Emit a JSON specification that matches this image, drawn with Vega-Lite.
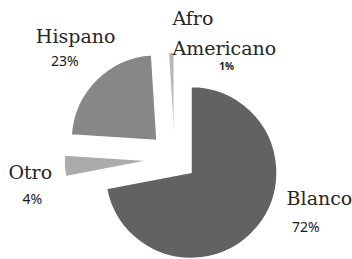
{
  "$schema": "https://vega.github.io/schema/vega-lite/v6.json",
  "width": 352,
  "height": 259,
  "autosize": {"type": "fit", "contains": "padding"},
  "padding": 0,
  "background": "#ffffff",
  "config": {"view": {"stroke": null}},
  "data": {
    "values": [
      {"grupo": "Blanco", "pct": 72, "orden": 1},
      {"grupo": "Otro", "pct": 4, "orden": 2},
      {"grupo": "Hispano", "pct": 23, "orden": 3},
      {"grupo": "Afro Americano", "pct": 1, "orden": 4}
    ]
  },
  "transform": [
    {"stack": "pct", "groupby": [], "sort": [{"field": "orden", "order": "ascending"}], "as": ["inicio", "fin"]},
    {"calculate": "(datum.inicio + datum.fin) / 2", "as": "medio"},
    {"calculate": "datum.pct + '%'", "as": "etiqueta"}
  ],
  "layer": [
    {
      "transform": [{"filter": "datum.grupo === 'Blanco'"}],
      "mark": {"type": "arc", "outerRadius": 86, "fill": "#626262", "stroke": "#ffffff", "strokeWidth": 1.5, "xOffset": 16, "yOffset": 45.5},
      "encoding": {
        "theta": {"field": "inicio", "type": "quantitative", "scale": {"domain": [0, 100]}},
        "theta2": {"field": "fin"}
      }
    },
    {
      "transform": [{"filter": "datum.grupo === 'Otro'"}],
      "mark": {"type": "arc", "outerRadius": 86, "fill": "#ababab", "stroke": "#ffffff", "strokeWidth": 1.5, "xOffset": -25, "yOffset": 33.5},
      "encoding": {
        "theta": {"field": "inicio", "type": "quantitative", "scale": {"domain": [0, 100]}},
        "theta2": {"field": "fin"}
      }
    },
    {
      "transform": [{"filter": "datum.grupo === 'Hispano'"}],
      "mark": {"type": "arc", "outerRadius": 86, "fill": "#878787", "stroke": "#ffffff", "strokeWidth": 1.5, "xOffset": -18, "yOffset": 13.5},
      "encoding": {
        "theta": {"field": "inicio", "type": "quantitative", "scale": {"domain": [0, 100]}},
        "theta2": {"field": "fin"}
      }
    },
    {
      "transform": [{"filter": "datum.grupo === 'Afro Americano'"}],
      "mark": {"type": "arc", "outerRadius": 86, "fill": "#b5b5b5", "stroke": "#ffffff", "strokeWidth": 1, "xOffset": -1, "yOffset": 11.5},
      "encoding": {
        "theta": {"field": "inicio", "type": "quantitative", "scale": {"domain": [0, 100]}},
        "theta2": {"field": "fin"}
      }
    },
    {
      "transform": [{"filter": "datum.grupo === 'Blanco'"}],
      "mark": {"type": "text", "radius": 120, "dx": 36, "dy": -44, "xOffset": 16, "yOffset": 45.5, "font": "DejaVu Serif", "fontSize": 19, "fill": "#262626", "align": "center", "baseline": "alphabetic"},
      "encoding": {
        "theta": {"field": "medio", "type": "quantitative", "scale": {"domain": [0, 100]}},
        "text": {"field": "grupo"}
      }
    },
    {
      "transform": [{"filter": "datum.grupo === 'Blanco'"}],
      "mark": {"type": "text", "radius": 127, "dx": 17, "dy": -21, "xOffset": 16, "yOffset": 45.5, "font": "Noto Sans", "fontSize": 14, "fill": "#1a1a1a", "align": "center", "baseline": "alphabetic"},
      "encoding": {
        "theta": {"field": "medio", "type": "quantitative", "scale": {"domain": [0, 100]}},
        "text": {"field": "etiqueta"}
      }
    },
    {
      "transform": [{"filter": "datum.grupo === 'Otro'"}],
      "mark": {"type": "text", "radius": 121, "dx": 1, "dy": 11, "xOffset": -25, "yOffset": 33.5, "font": "DejaVu Serif", "fontSize": 19, "fill": "#262626", "align": "center", "baseline": "alphabetic"},
      "encoding": {
        "theta": {"field": "medio", "type": "quantitative", "scale": {"domain": [0, 100]}},
        "text": {"field": "grupo"}
      }
    },
    {
      "transform": [{"filter": "datum.grupo === 'Otro'"}],
      "mark": {"type": "text", "radius": 120, "dx": 2, "dy": 36, "xOffset": -25, "yOffset": 33.5, "font": "Noto Sans", "fontSize": 14, "fill": "#1a1a1a", "align": "center", "baseline": "alphabetic"},
      "encoding": {
        "theta": {"field": "medio", "type": "quantitative", "scale": {"domain": [0, 100]}},
        "text": {"field": "etiqueta"}
      }
    },
    {
      "transform": [{"filter": "datum.grupo === 'Hispano'"}],
      "mark": {"type": "text", "radius": 125, "dx": 7, "dy": -9, "xOffset": -18, "yOffset": 13.5, "font": "DejaVu Serif", "fontSize": 19, "fill": "#262626", "align": "center", "baseline": "alphabetic"},
      "encoding": {
        "theta": {"field": "medio", "type": "quantitative", "scale": {"domain": [0, 100]}},
        "text": {"field": "grupo"}
      }
    },
    {
      "transform": [{"filter": "datum.grupo === 'Hispano'"}],
      "mark": {"type": "text", "radius": 119, "dx": -8, "dy": 10, "xOffset": -18, "yOffset": 13.5, "font": "Noto Sans", "fontSize": 14, "fill": "#1a1a1a", "align": "center", "baseline": "alphabetic"},
      "encoding": {
        "theta": {"field": "medio", "type": "quantitative", "scale": {"domain": [0, 100]}},
        "text": {"field": "etiqueta"}
      }
    },
    {
      "transform": [{"filter": "datum.grupo === 'Afro Americano'"}],
      "mark": {"type": "text", "radius": 114, "dx": 2, "dy": 0, "xOffset": -1, "yOffset": 11.5, "font": "DejaVu Serif", "fontSize": 19, "fill": "#262626", "align": "left", "baseline": "alphabetic", "lineBreak": " ", "lineHeight": 30},
      "encoding": {
        "theta": {"field": "medio", "type": "quantitative", "scale": {"domain": [0, 100]}},
        "text": {"field": "grupo"}
      }
    },
    {
      "transform": [{"filter": "datum.grupo === 'Afro Americano'"}],
      "mark": {"type": "text", "radius": 72, "dx": 55, "dy": 3, "xOffset": -1, "yOffset": 11.5, "font": "Noto Sans", "fontSize": 10, "fontWeight": "bold", "fill": "#1a1a1a", "align": "center", "baseline": "alphabetic"},
      "encoding": {
        "theta": {"field": "medio", "type": "quantitative", "scale": {"domain": [0, 100]}},
        "text": {"field": "etiqueta"}
      }
    }
  ]
}
